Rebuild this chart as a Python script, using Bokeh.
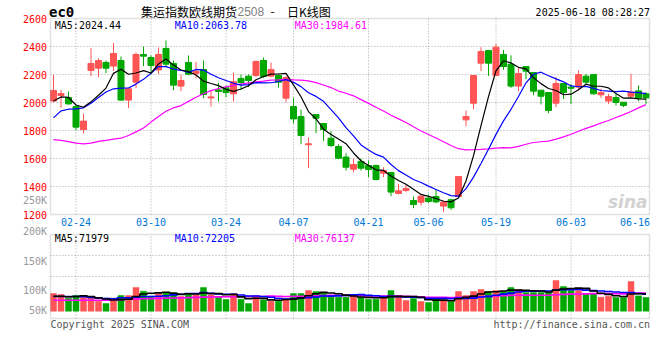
from bokeh.plotting import figure
from bokeh.models import Range1d, ColumnDataSource, LabelSet, Label, BoxAnnotation
from bokeh.embed import file_html
from bokeh.resources import INLINE
from bokeh.core.properties import value

# ---------------- data ----------------
date_labels = ["02-24", "03-10", "03-24", "04-07", "04-21", "05-06", "05-19", "06-03", "06-16"]
date_index = [3, 13, 23, 32, 42, 50, 59, 69, 78]

open_ = [2010, 2050, 2036, 1971, 1807, 2229, 2245, 2286, 2260, 2300,
         2017, 2145, 2343, 2321, 2233, 2386, 2279, 2117, 2286, 2207,
         2236, 2033, 2090, 2105, 2062, 2171, 2188, 2193, 2300, 2188,
         2193, 2031, 1971, 1900, 1698, 1914, 1850, 1745, 1686, 1610,
         1524, 1579, 1550, 1550, 1495, 1500, 1350, 1371, 1300, 1288,
         1317, 1329, 1260, 1305, 1329, 1876, 1995, 2281, 2371, 2193,
         2343, 2274, 2117, 2257, 2214, 2088, 2071, 1995, 2136, 2110,
         2110, 2188, 2200, 2055, 2010, 2036, 2002, 2045, 2083, 2062]
high = [2198, 2090, 2079, 1986, 1921, 2388, 2317, 2300, 2424, 2329,
        2100, 2357, 2400, 2336, 2393, 2443, 2300, 2198, 2336, 2290,
        2300, 2081, 2140, 2121, 2214, 2200, 2200, 2300, 2321, 2286,
        2205, 2186, 2033, 1950, 1750, 1914, 1850, 1795, 1702, 1638,
        1600, 1600, 1586, 1557, 1538, 1500, 1419, 1414, 1329, 1343,
        1343, 1379, 1300, 1312, 1471, 1943, 2193, 2395, 2376, 2419,
        2376, 2336, 2252, 2257, 2214, 2088, 2071, 2181, 2136, 2133,
        2229, 2205, 2200, 2098, 2062, 2062, 2002, 2205, 2121, 2074]
low = [2002, 1960, 1986, 1802, 1779, 2188, 2181, 2210, 2226, 2014,
       1960, 2102, 2260, 2200, 2205, 2252, 2088, 2081, 2195, 2174,
       2031, 1971, 2007, 2038, 2007, 2090, 2110, 2181, 2176, 2181,
       2105, 2002, 1852, 1702, 1531, 1781, 1724, 1681, 1595, 1514,
       1502, 1514, 1467, 1443, 1467, 1331, 1343, 1362, 1245, 1264,
       1281, 1281, 1217, 1233, 1324, 1831, 1952, 2224, 2190, 2193,
       2233, 2105, 2081, 2167, 2052, 1986, 1924, 1967, 2024, 1990,
       2086, 2133, 2057, 2033, 1990, 1979, 1967, 2038, 2010, 1990]
close = [2086, 2064, 1990, 1824, 1867, 2279, 2300, 2245, 2350, 2017,
         2098, 2343, 2331, 2264, 2343, 2274, 2124, 2157, 2202, 2224,
         2057, 2040, 2079, 2071, 2148, 2143, 2157, 2293, 2186, 2236,
         2145, 2179, 1883, 1764, 1705, 1888, 1807, 1693, 1602, 1538,
         1557, 1531, 1521, 1450, 1514, 1360, 1369, 1386, 1271, 1331,
         1293, 1290, 1288, 1248, 1471, 1900, 2193, 2364, 2281, 2395,
         2257, 2117, 2207, 2224, 2081, 2045, 1943, 2136, 2071, 2102,
         2200, 2145, 2062, 2071, 2043, 2000, 1979, 2074, 2031, 2033]
volume = [74200, 70000, 54600, 65800, 58800, 58800, 42000, 32200, 44800, 65800,
          65800, 99400, 84000, 63000, 72800, 78400, 78400, 61600, 74200, 68600,
          99400, 68600, 58800, 49000, 74200, 50400, 32200, 65800, 47600, 42000,
          42000, 47600, 74200, 74200, 86800, 82600, 78400, 58800, 58800, 58800,
          64400, 58800, 50400, 50400, 58800, 86800, 65800, 44800, 53200, 40600,
          36400, 57400, 44800, 40600, 82600, 65800, 82600, 91000, 82600, 86800,
          82600, 99400, 91000, 78400, 78400, 78400, 78400, 128800, 103600, 86800,
          86800, 72800, 72800, 58800, 63000, 57400, 57400, 124600, 64400, 57400]

# moving-average values before enough history is visible
ma5_head = [2010, 2040, 2036, 1982]
ma10_head = [1890, 1940, 1952, 1955, 1962, 1995, 2036, 2075, 2098]
ma30_head = [1735, 1729, 1720, 1710, 1705, 1710, 1722, 1729, 1738, 1745,
             1764, 1790, 1818, 1860, 1900, 1938, 1962, 1978, 2008, 2038,
             2062, 2085, 2100, 2112, 2122, 2132, 2140, 2147, 2153]
vol_ma5_head = [63000, 62500, 61000, 61500]
vol_ma10_head = [62000, 62000, 61500, 61500, 61000, 58000, 56000, 53000, 52500]
vol_ma30_head = [46000, 46000, 46000, 46000, 46000, 46000, 46000, 46500, 47000, 48500,
                 50000, 51000, 52000, 53000, 54000, 55000, 55500, 56000, 57000, 58000,
                 59000, 59500, 60000, 60500, 61000, 61500, 61500, 62000, 62000]

price_ticks = [1200, 1400, 1600, 1800, 2000, 2200, 2400, 2600]
price_grid = [1400, 1600, 1800, 2000, 2200, 2400]
vol_tick_labels = ["250K", "200K", "150K", "100K", "50K"]
price_ma_texts = ["MA5:2024.44", "MA10:2063.78", "MA30:1984.61"]
vol_ma_texts = ["MA5:71979", "MA10:72205", "MA30:76137"]
title_main = "集运指数欧线期货"
title_code = "2508"
title_tail = "日K线图"
symbol = "ec0"
timestamp = "2025-06-18 08:28:27"
footer_left = "Copyright 2025 SINA.COM"
footer_right = "http://finance.sina.com.cn"

# ---------------- layout (reference pixels) ----------------
W, H = 660, 360
DX_PAGE, DY_PAGE = 0, 0          # reference pixel shown at canvas (0, 0)
FRAME_L, FRAME_R = 50, 649
TOP, PRICE_BOTTOM, VOL_TOP, BOTTOM = 18, 214, 234, 318
VOL_ZERO = 310.7
X0, STEP = 53.0, 7.5
PRICE_PER_PX = 200 / 28
VOL_PER_PX = 4200
VOL_LABEL_Y = [200.3, 230.5, 260.5, 290.0, 310.0]
LABEL_RIGHT = 46.5
DATE_Y = 221.5
CHAR_W = 6.02


def px2x(rx):
    return (rx - X0) / STEP


def px2p(ry):
    return 2600 - (ry - TOP) * PRICE_PER_PX


def px2v(ry):
    return (VOL_ZERO - ry) * VOL_PER_PX


UP, DOWN = "#FF5555", "#00A800"
MONO = "DejaVu Sans Mono"
GRID = "#A8A8A8"
FRAME = "#9A9A9A"


def moving_avg(vals, n, head):
    out = list(head)
    for i in range(len(head), len(vals)):
        out.append(sum(vals[i - n + 1:i + 1]) / n)
    return out


n = len(close)
xs = list(range(n))
colors = [UP if c >= o else DOWN for o, c in zip(open_, close)]
src = ColumnDataSource(dict(
    x=xs, open=open_, high=high, low=low, close=close,
    top=[max(o, c) for o, c in zip(open_, close)],
    bottom=[min(o, c) for o, c in zip(open_, close)],
    color=colors, vol=volume,
    ma5=moving_avg(close, 5, ma5_head),
    ma10=moving_avg(close, 10, ma10_head),
    ma30=moving_avg(close, 30, ma30_head),
    vma5=moving_avg(volume, 5, vol_ma5_head),
    vma10=moving_avg(volume, 10, vol_ma10_head),
    vma30=moving_avg(volume, 30, vol_ma30_head),
))

# the plot frame covers the whole canvas; panels are drawn inside it
p = figure(width=W, height=H, output_backend="svg", toolbar_location=None,
           x_range=Range1d(px2x(DX_PAGE), px2x(DX_PAGE + W)),
           y_range=Range1d(px2p(DY_PAGE + H), px2p(DY_PAGE)),
           x_axis_location=None, y_axis_location=None,
           min_border=0, min_border_left=0, min_border_right=0,
           min_border_top=0, min_border_bottom=0)
p.extra_y_ranges = {"vol": Range1d(px2v(DY_PAGE + H), px2v(DY_PAGE))}
p.grid.visible = False
p.outline_line_color = None
p.background_fill_color = "white"
p.border_fill_color = "white"

x_start, x_end = px2x(FRAME_L), px2x(FRAME_R)
vol_bottom, vol_top = px2v(BOTTOM), px2v(VOL_TOP)

# ---------------- grid lines ----------------
grid_dates = date_index[:-1]
p.segment(x0=[x_start] * len(price_grid), x1=[x_end] * len(price_grid),
          y0=price_grid, y1=price_grid, line_color=GRID, line_dash="1 2", line_width=1)
p.segment(x0=grid_dates, x1=grid_dates, y0=[1200] * len(grid_dates), y1=[2600] * len(grid_dates),
          line_color=GRID, line_dash="1 2", line_width=1)
p.segment(x0=grid_dates, x1=grid_dates, y0=[vol_bottom] * len(grid_dates),
          y1=[vol_top] * len(grid_dates), line_color=GRID, line_dash="1 2", line_width=1,
          y_range_name="vol")
vgrid = [vol_bottom + k * (vol_top - vol_bottom) / 4 for k in (1, 2, 3)]
p.segment(x0=[x_start] * 3, x1=[x_end] * 3, y0=vgrid, y1=vgrid,
          line_color=GRID, line_dash="1 2", line_width=1, y_range_name="vol")

# ---------------- candles & volume ----------------
p.segment(x0="x", y0="low", x1="x", y1="high", line_color="color", line_width=1, source=src)
p.vbar(x="x", width=0.8, top="top", bottom="bottom", fill_color="color",
       line_color="color", line_width=1, source=src)
p.vbar(x="x", width=0.8, top="vol", bottom=0, fill_color="color", line_color="color",
       line_width=0.5, source=src, y_range_name="vol")

p.line("x", "ma30", line_color="#FF00FF", line_width=1.2, source=src)
p.line("x", "ma10", line_color="#0000FF", line_width=1.2, source=src)
p.line("x", "ma5", line_color="#000000", line_width=1.2, source=src)
p.step("x", "vma30", mode="center", line_color="#FF00FF", line_width=1.6, source=src, y_range_name="vol")
p.step("x", "vma10", mode="center", line_color="#0000FF", line_width=1.6, source=src, y_range_name="vol")
p.step("x", "vma5", mode="center", line_color="#000000", line_width=1.6, source=src, y_range_name="vol")

# ---------------- panel frames ----------------
p.add_layout(BoxAnnotation(left=x_start, right=x_end, bottom=1200, top=2600,
                           fill_alpha=0, line_color=FRAME, line_width=1.5))
p.add_layout(BoxAnnotation(left=x_start, right=x_end, bottom=vol_bottom, top=vol_top,
                           fill_alpha=0, line_color=FRAME, line_width=1.5, y_range_name="vol"))

# ---------------- axis texts ----------------
price_src = ColumnDataSource(dict(x=[px2x(LABEL_RIGHT)] * len(price_ticks), y=price_ticks,
                                  text=[str(t) for t in price_ticks]))
p.add_layout(LabelSet(x="x", y="y", text="text", source=price_src, text_align="right",
                      text_baseline="middle", text_color="#FF0000", text_font=value(MONO),
                      text_font_size=value("10px")))

vol_src = ColumnDataSource(dict(x=[px2x(LABEL_RIGHT)] * len(vol_tick_labels),
                                y=[px2v(v) for v in VOL_LABEL_Y], text=vol_tick_labels))
p.add_layout(LabelSet(x="x", y="y", text="text", source=vol_src, text_align="right",
                      text_baseline="middle", text_color="#999999", text_font=value(MONO),
                      text_font_size=value("10px"), y_range_name="vol"))

# date labels, kept inside the panel's right edge
half = len(date_labels[0]) * CHAR_W / 2
date_x = [min(d, px2x(FRAME_R + 0.5 - half)) for d in date_index]
date_src = ColumnDataSource(dict(x=date_x, y=[px2p(DATE_Y)] * len(date_index), text=date_labels))
p.add_layout(LabelSet(x="x", y="y", text="text", source=date_src, text_align="center",
                      text_baseline="middle", text_color="#0078D7", text_font=value(MONO),
                      text_font_size=value("10px")))


def label(text, rx, ry, color="#000000", align="left", font=MONO, size="10px", style="normal"):
    p.add_layout(Label(x=px2x(rx), y=px2p(ry), text=text, text_align=align,
                       text_baseline="middle", text_color=color, text_font=font,
                       text_font_size=size, text_font_style=style))


legend_x = [54.3, 174.3, 294.3]
legend_colors = ["#000000", "#0000FF", "#FF00FF"]
for t, lx, c in zip(price_ma_texts, legend_x, legend_colors):
    label(t, lx, 24.5, color=c)
for t, lx, c in zip(vol_ma_texts, legend_x, legend_colors):
    label(t, lx, 238.0, color=c)

label(symbol, 48.5, 11.5, size="14px", style="bold")
label(title_main, 140.5, 10.5, font="Noto Sans CJK SC", size="12px")
label(title_code, 237.0, 11.0, color="#808080", font="Liberation Sans", size="12px")
label("-", 270.0, 10.5, font="Noto Sans CJK SC", size="12px")
label(title_tail, 286.5, 10.5, font="Noto Sans CJK SC", size="12px")
label(timestamp, 649.5, 12.0, align="right")
label(footer_left, 50.0, 323.5, color="#555555")
label(footer_right, 649.5, 324.0, color="#555555", align="right")
label("sina", 647.0, 201.0, color="#D2D2D2", align="right", font="DejaVu Sans",
      size="17px", style="bold italic")

open("out.html", "w").write(file_html(p, INLINE))
